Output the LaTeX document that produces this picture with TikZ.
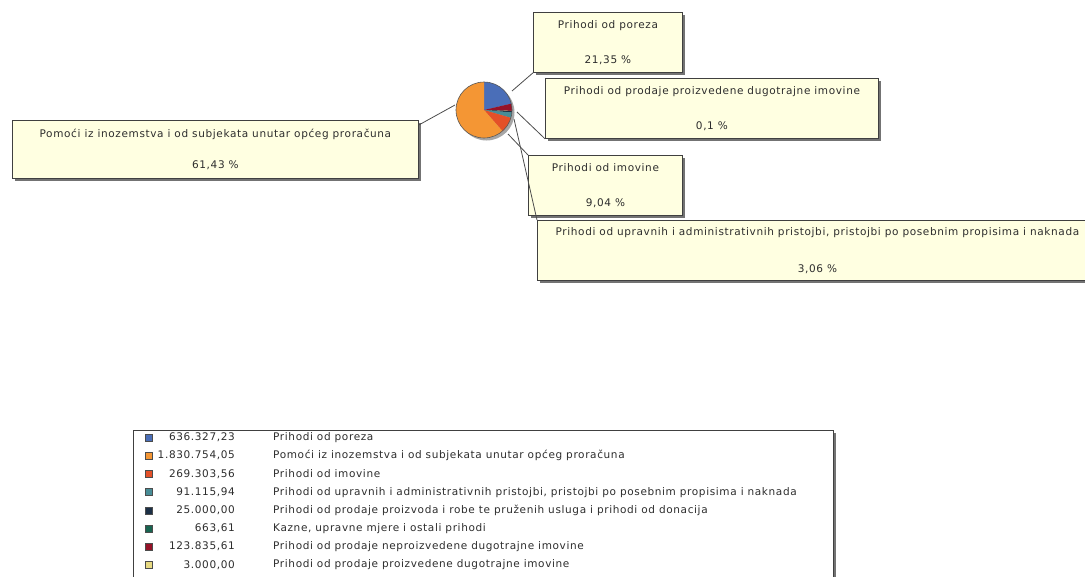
\documentclass[tikz,border=0pt]{standalone}
\usepackage{fontspec}
\setmainfont[LetterSpace=6.0]{DejaVu Sans}
\usetikzlibrary{shadows,calc}
\definecolor{tip}{RGB}{255,255,225}
\definecolor{cPor}{RGB}{74,110,184}
\definecolor{cPom}{RGB}{244,150,52}
\definecolor{cImo}{RGB}{228,80,40}
\definecolor{cUpr}{RGB}{72,140,150}
\definecolor{cPro}{RGB}{28,48,70}
\definecolor{cKaz}{RGB}{24,100,80}
\definecolor{cNep}{RGB}{150,18,40}
\definecolor{cPdi}{RGB}{232,218,130}
\definecolor{txt}{RGB}{45,45,45}
\begin{document}
\begin{tikzpicture}[x=1pt,y=-1pt,font=\fontsize{10.5}{12.5}\selectfont,
  box/.style={draw=black!75, line width=0.8pt, fill=tip, anchor=north west, inner sep=0pt,
    align=center, text=txt, minimum height=60pt,
    drop shadow={shadow xshift=3pt, shadow yshift=-3pt, fill=black!55, opacity=1}},
  leader/.style={draw=black!70, line width=0.8pt},
  sq/.style={draw=black!70, line width=0.6pt, minimum size=7pt, inner sep=0pt},
  num/.style={anchor=east, text=txt, inner sep=0pt},
  lab/.style={anchor=west, text=txt, inner sep=0pt}]
\useasboundingbox (0,0) rectangle (1085,576);
\clip (0,0) rectangle (1085,576);
% pie
\coordinate (pc) at (484,110);
\def\R{28}
\newcommand\slice[3]{\fill[#1] (pc) -- plot[domain=#2:#3, samples=40] ({484+\R*cos(\x)},{110-\R*sin(\x)}) -- cycle;}
\fill[black!35] (486.5,112.5) circle[radius=\R];
\slice{cPor}{90}{13.14}
\slice{cNep}{13.14}{-1.82}
\slice{cPdi}{-1.82}{-2.18}
\slice{cPro}{-2.18}{-5.2}
\slice{cKaz}{-5.2}{-5.28}
\slice{cUpr}{-5.28}{-16.28}
\slice{cImo}{-16.28}{-48.8}
\slice{cPom}{-48.8}{-270}
\draw[black!65, line width=0.6pt] (pc) circle[radius=\R];
\coordinate (pPor) at ($(pc)+(28,-19)$);
\coordinate (pPdi) at ($(pc)+(33,2)$);
\coordinate (pPom) at ($(pc)+(-29,-5)$);
\coordinate (pImo) at ($(pc)+(24,24)$);
\coordinate (pUpr) at ($(pc)+(30,9)$);
% boxes
\node[box, minimum width=149pt] (poreza) at (533,12) {Prihodi od poreza\\[22pt]21,35 \%};
\node[box, minimum width=333pt] (prodaje) at (545,78) {Prihodi od prodaje proizvedene dugotrajne imovine\\[22pt]0,1 \%};
\node[box, minimum width=406pt, minimum height=58pt] (pomoci) at (12,120) {Pomoći iz inozemstva i od subjekata unutar općeg proračuna\\[19pt]61,43 \%};
\node[box, minimum width=154pt] (imovine) at (528,155) {Prihodi od imovine\\[22pt]9,04 \%};
\node[box, minimum width=560pt] (upravnih) at (537,220) {Prihodi od upravnih i administrativnih pristojbi, pristojbi po posebnim propisima i naknada\\[25pt]3,06 \%};
% leaders
\draw[leader] (pPor) -- (poreza.south west);
\draw[leader] (pPdi) -- (prodaje.south west);
\draw[leader] (pPom) -- ([yshift=-5pt]pomoci.north east);
\draw[leader] (pImo) -- (imovine.north west);
\draw[leader] (pUpr) -- (upravnih.north west);
% legend
\node[draw=black!75, line width=0.8pt, fill=white, anchor=north west, minimum width=700pt, minimum height=150pt, inner sep=0pt,
  drop shadow={shadow xshift=3pt, shadow yshift=-3pt, fill=black!55, opacity=1}] (legend) at (133,430) {};
\node[sq, fill=cPor] (s1) at (148.5,437.5) {};
\node[num] (n1) at (235,437.5) {636.327,23};
\node[lab] (l1) at (273,437.5) {Prihodi od poreza};
\node[sq, fill=cPom] (s2) at (148.5,455.7) {};
\node[num] (n2) at (235,455.7) {1.830.754,05};
\node[lab] (l2) at (273,455.7) {Pomoći iz inozemstva i od subjekata unutar općeg proračuna};
\node[sq, fill=cImo] (s3) at (148.5,473.9) {};
\node[num] (n3) at (235,473.9) {269.303,56};
\node[lab] (l3) at (273,473.9) {Prihodi od imovine};
\node[sq, fill=cUpr] (s4) at (148.5,492.1) {};
\node[num] (n4) at (235,492.1) {91.115,94};
\node[lab] (l4) at (273,492.1) {Prihodi od upravnih i administrativnih pristojbi, pristojbi po posebnim propisima i naknada};
\node[sq, fill=cPro] (s5) at (148.5,510.3) {};
\node[num] (n5) at (235,510.3) {25.000,00};
\node[lab] (l5) at (273,510.3) {Prihodi od prodaje proizvoda i robe te pruženih usluga i prihodi od donacija};
\node[sq, fill=cKaz] (s6) at (148.5,528.5) {};
\node[num] (n6) at (235,528.5) {663,61};
\node[lab] (l6) at (273,528.5) {Kazne, upravne mjere i ostali prihodi};
\node[sq, fill=cNep] (s7) at (148.5,546.7) {};
\node[num] (n7) at (235,546.7) {123.835,61};
\node[lab] (l7) at (273,546.7) {Prihodi od prodaje neproizvedene dugotrajne imovine};
\node[sq, fill=cPdi] (s8) at (148.5,564.9) {};
\node[num] (n8) at (235,564.9) {3.000,00};
\node[lab] (l8) at (273,564.9) {Prihodi od prodaje proizvedene dugotrajne imovine};
\end{tikzpicture}
\end{document}
